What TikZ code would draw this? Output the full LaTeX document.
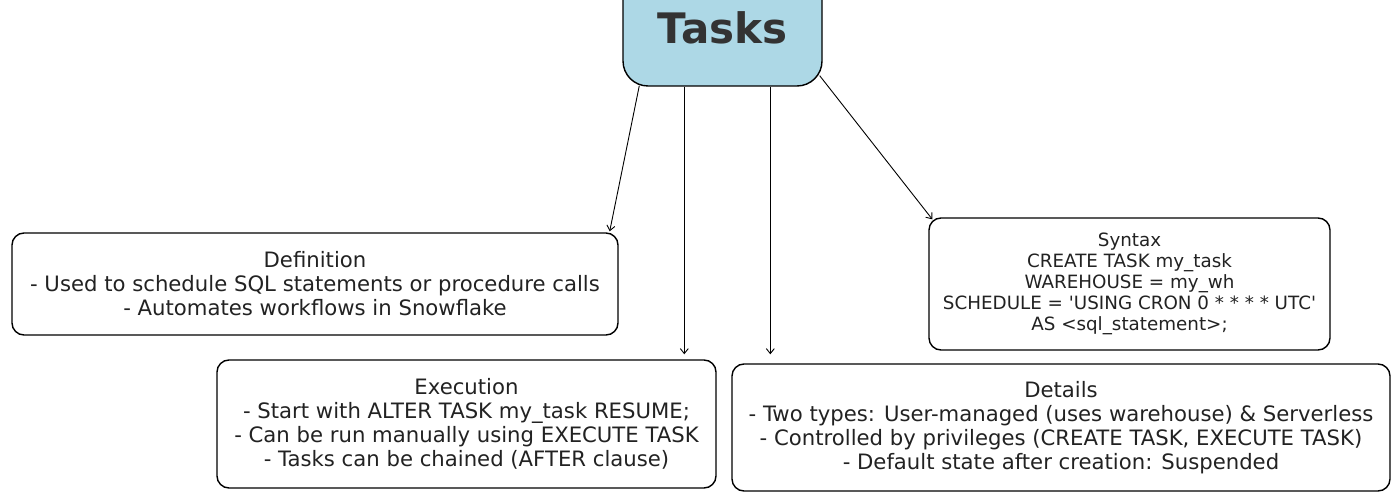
\documentclass[tikz,border=0pt]{standalone}
\usepackage{fontspec}
\setmainfont{DejaVu Sans}[Ligatures=TeXOff]
\usetikzlibrary{arrows.meta,calc}
\definecolor{boxblue}{HTML}{ADD8E6}
\definecolor{ink}{HTML}{222222}
\definecolor{titleink}{HTML}{333333}
\begin{document}
\begin{tikzpicture}[x=1pt,y=-1pt,
  box/.style={draw=black, line width=1.4pt, rounded corners=12pt, fill=white, text=ink, align=center, inner sep=0pt},
  bigtext/.style={font=\fontsize{21.2}{24}\selectfont},
  arr/.style={draw=black, line width=0.9pt, -{Straight Barb[length=5pt,width=8pt]}}]
\useasboundingbox[fill=white] (0,0) rectangle (1400,494);
\node[box, fill=boxblue, rounded corners=25pt, minimum width=199pt, minimum height=116pt,
      font=\fontsize{42}{50}\selectfont\bfseries, text=titleink] (tasks) at (722.5,28) {Tasks};
\node[box, bigtext, minimum width=606pt, minimum height=102pt] (def) at (315,284)
  {Definition\\- Used to schedule SQL statements or procedure calls\\- Automates workflows in Snowflake};
\node[box, bigtext, minimum width=499pt, minimum height=128pt] (exe) at (466.5,424)
  {Execution\\- Start with ALTER TASK my\_task RESUME;\\- Can be run manually using EXECUTE TASK\\- Tasks can be chained (AFTER clause)};
\node[box, minimum width=401pt, minimum height=132pt, font=\fontsize{18.3}{21}\selectfont] (syn) at (1129.5,284)
  {Syntax\\CREATE TASK my\_task\\WAREHOUSE = my\_wh\\SCHEDULE = 'USING CRON 0 * * * * UTC'\\AS <sql\_statement>;};
\node[box, bigtext, minimum width=658pt, minimum height=127pt] (det) at (1061,427.5)
  {Details\\- Two types: User-managed (uses warehouse) \& Serverless\\- Controlled by privileges (CREATE TASK, EXECUTE TASK)\\- Default state after creation: Suspended};
\coordinate (exein) at ($(exe.north west)+(468,-5)$);
\coordinate (detin) at ($(det.north west)+(39,-9)$);
\draw[arr] ($(tasks.south west)+(17,-1)$) -- ($(def.north east)+(-9,-1)$);
\draw[arr] ($(tasks.south west)+(62,0)$) -- (exein);
\draw[arr] ($(tasks.south west)+(148,0)$) -- (detin);
\draw[arr] ($(tasks.south east)+(-3,-11)$) -- ($(syn.north west)+(4,2)$);
\end{tikzpicture}
\end{document}
